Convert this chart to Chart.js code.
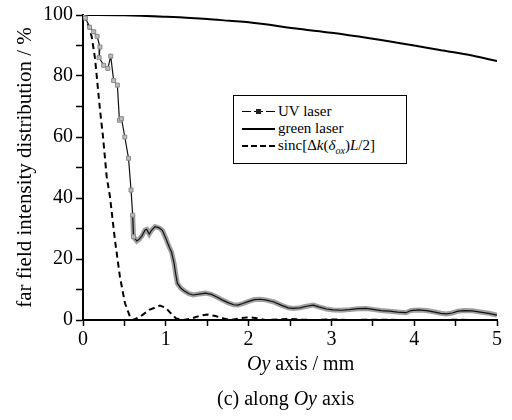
<!DOCTYPE html>
<html>
<head>
<meta charset="utf-8">
<script src="https://cdn.jsdelivr.net/npm/chart.js@4.4.1/dist/chart.umd.min.js"></script>
<style>
  body { margin: 0; background: #fff; }
  #wrap { position: relative; width: 512px; height: 420px; font-family: "Liberation Serif", serif; color: #000; }
  #wrap canvas { position: absolute; left: 0; top: 0; }
  .xtitle { position: absolute; left: 247px; top: 352px; font-size: 20px; white-space: nowrap; }
  .caption { position: absolute; left: 217px; top: 387px; font-size: 20px; white-space: nowrap; }
  .legend { position: absolute; left: 233px; top: 95px; width: 172px; height: 67px; border: 1px solid #000; background: #fff; font-size: 15px; }
  .row { position: absolute; left: 8px; height: 16px; line-height: 16px; white-space: nowrap; }
  .sample { display: inline-block; width: 33px; height: 0; vertical-align: middle; margin-right: 3px; position: relative; top: -1px; }
  .uv { border-top: 1.5px solid #000; }
  .uv span { position: absolute; left: 14px; top: -3.5px; width: 5px; height: 5px; background: #222; }
  .uv i { position: absolute; top: -3px; width: 3px; height: 5px; background: #fff; }
  .green { border-top: 2px solid #000; }
  .sinc { border-top: 2px dashed #000; }
  sub { font-size: 10px; }
</style>
</head>
<body>
<div id="wrap">
  <canvas id="myChart" width="512" height="420"></canvas>
  <div class="legend">
    <div class="row" style="top:7px"><span class="sample uv"><i style="left:9px"></i><span></span><i style="left:21px"></i></span>UV laser</div>
    <div class="row" style="top:24px"><span class="sample green"></span>green laser</div>
    <div class="row" style="top:41px"><span class="sample sinc"></span>sinc[Δ<i>k</i>(<i>δ</i><sub><i>ox</i></sub>)<i>L</i>/2]</div>
  </div>
  <div class="xtitle"><i>Oy</i> axis / mm</div>
  <div class="caption">(c) along <i>Oy</i> axis</div>
</div>
<script>
// UV laser measured profile (x in mm, y in %)
const uvX = [0, 0.03, 0.08, 0.13, 0.17, 0.205, 0.195, 0.25, 0.3, 0.335, 0.37, 0.415, 0.44, 0.465, 0.505, 0.55, 0.58, 0.6, 0.61,
  0.65, 0.68, 0.71, 0.75, 0.77, 0.8, 0.83, 0.87, 0.92, 0.96, 1.0, 1.04, 1.07, 1.1, 1.12, 1.14, 1.18, 1.22, 1.28, 1.33,
  1.4, 1.48, 1.55, 1.61, 1.68, 1.75, 1.82, 1.87, 1.93, 2.0, 2.07, 2.14, 2.2, 2.3, 2.4, 2.48, 2.54, 2.62, 2.7, 2.78,
  2.85, 2.94, 3.02, 3.12, 3.22, 3.32, 3.42, 3.52, 3.6, 3.7, 3.8, 3.9, 3.96, 4.05, 4.15, 4.25, 4.32, 4.39, 4.46, 4.53,
  4.6, 4.7, 4.8, 4.9, 5.0];
const uvY = [100, 99, 96, 94.5, 93, 89.5, 86, 83.5, 82.5, 86.5, 78.5, 77, 65.5, 66, 60, 53, 42.6, 34.4, 27.3,
  25.9, 26.5, 27.5, 29.5, 29.7, 28.2, 29.5, 30.6, 30.2, 29.3, 26.8, 24, 22.2, 18.6, 15, 12, 10.5, 9.6, 8.6, 8.2,
  8.5, 8.8, 8.4, 7.6, 6.6, 5.7, 5.0, 4.9, 5.4, 6.1, 6.7, 6.8, 6.6, 6.0, 4.8, 4.0, 3.8, 4.0, 4.5, 4.9,
  4.3, 3.6, 3.3, 3.2, 3.4, 3.7, 3.8, 3.4, 3.1, 2.9, 2.6, 2.4, 3.1, 3.3, 3.1, 2.6, 2.2, 2.0, 2.3, 2.9,
  3.1, 3.0, 2.6, 2.2, 1.6];

// green laser
const greenX = [0, 0.5, 1, 1.5, 1.77, 2, 2.62, 3, 3.46, 4, 4.31, 4.7, 5];
const greenY = [100, 99.9, 99.4, 98.7, 98.1, 97.6, 95.4, 94.2, 92.4, 90, 88.5, 86.7, 84.9];

// sinc[dk L/2] theory curve
const sincX = [0, 0.02, 0.06, 0.105, 0.145, 0.205, 0.24, 0.286, 0.326, 0.386, 0.446, 0.507, 0.567, 0.61,
  0.7, 0.8, 0.93, 1.0, 1.05, 1.12, 1.2, 1.3, 1.4, 1.5, 1.6, 1.7, 1.78, 1.88, 2.0, 2.1, 2.2, 2.35, 2.5, 2.65,
  2.8, 3.0, 3.2, 3.5, 4.0, 4.5, 5.0];
const sincY = [100, 99, 97, 92.9, 85.8, 69, 60.5, 47, 40.4, 26.2, 14.2, 5.5, 1.1, 0,
  1.3, 3.3, 4.7, 4.0, 2.5, 0.6, 0, 0.4, 1.3, 1.8, 1.3, 0.5, 0, 0.5, 0.9, 0.6, 0, 0.2, 0.4, 0.1,
  0, 0.2, 0, 0.1, 0, 0.05, 0];

const xTicks = [0, 1, 2, 3, 4, 5];
const yTicks = [0, 20, 40, 60, 80, 100];

const toPoints = (xs, ys) => xs.map((x, i) => ({ x: x, y: ys[i] }));
const font = { family: "Liberation Serif", size: 20 };

new Chart(document.getElementById("myChart").getContext("2d"), {
  type: "scatter",
  data: {
    datasets: [
      {
        label: "UV laser",
        data: toPoints(uvX, uvY),
        showLine: true,
        borderColor: "#111",
        borderWidth: 1.2,
        pointStyle: "rect",
        pointRadius: (ctx) => (ctx.raw && ctx.raw.x <= 0.62 ? 2.8 : 0),
        pointBackgroundColor: "#bdbdbd",
        pointBorderColor: "#8a8a8a",
        pointBorderWidth: 1,
        order: 1,
      },
      {
        label: "UV halo",
        data: toPoints(uvX, uvY),
        showLine: true,
        borderColor: "#a0a0a0",
        borderWidth: 5,
        segment: {
          borderColor: (ctx) => (ctx.p0.parsed.x < 0.6 ? "rgba(0,0,0,0)" : "#a0a0a0"),
        },
        pointRadius: 0,
        order: 5,
      },
      {
        label: "green laser",
        data: toPoints(greenX, greenY),
        showLine: true,
        borderColor: "#000",
        borderWidth: 2,
        cubicInterpolationMode: "monotone",
        pointRadius: 0,
        order: 2,
      },
      {
        label: "sinc",
        data: toPoints(sincX, sincY),
        showLine: true,
        borderColor: "#000",
        borderWidth: 2,
        borderDash: [6, 4],
        pointRadius: 0,
        order: 3,
      },
    ],
  },
  options: {
    responsive: false,
    animation: false,
    layout: { padding: { left: 0, right: 15, top: 15, bottom: 0 } },
    plugins: {
      legend: { display: false },
      tooltip: { enabled: false },
    },
    scales: {
      x: {
        type: "linear",
        min: 0,
        max: 5,
        afterFit: (scale) => { scale.height = 100; },
        border: { display: true, color: "#000", width: 2 },
        grid: { drawOnChartArea: false, drawTicks: true, tickLength: 6, tickColor: "#000", tickWidth: 1.5 },
        ticks: {
          stepSize: 0.5,
          color: "#000",
          font: font,
          padding: 2,
          maxRotation: 0,
          callback: (value) => (xTicks.includes(value) ? String(value) : ""),
        },
      },
      y: {
        min: 0,
        max: 100,
        afterFit: (scale) => { scale.width = 83; },
        border: { display: true, color: "#000", width: 2 },
        grid: { drawOnChartArea: false, drawTicks: true, tickLength: 7, tickColor: "#000", tickWidth: 1.5 },
        ticks: {
          stepSize: 10,
          color: "#000",
          font: font,
          padding: 3,
          callback: (value) => (yTicks.includes(value) ? String(value) : ""),
        },
        title: {
          display: true,
          text: "far field intensity distribution / %",
          color: "#000",
          font: { family: "Liberation Serif", size: 21 },
          padding: { top: 13, bottom: 0 },
        },
      },
    },
  },
});
</script>
</body>
</html>
